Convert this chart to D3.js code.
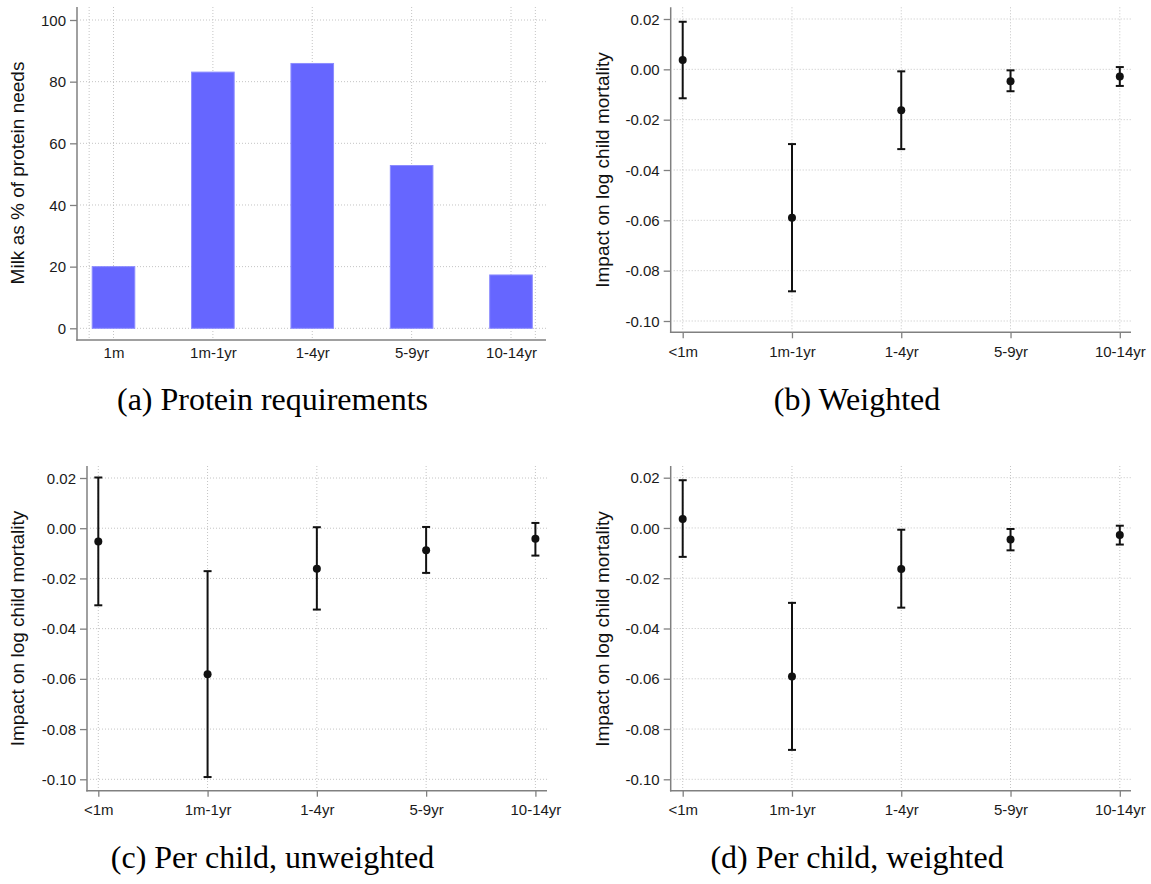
<!DOCTYPE html>
<html>
<head>
<meta charset="utf-8">
<style>
  body { margin: 0; background: #fff; }
  svg { position: absolute; top: 0; left: 0; }
  .tick text { font-family: "Liberation Sans", Arial, sans-serif; font-size: 15px; fill: #1a1a1a; }
  .tick line { stroke: #808080; stroke-width: 1.3px; }
  .axisline { stroke: #808080; stroke-width: 1.5px; }
  .grid { stroke: #c4c4c4; stroke-width: 1px; stroke-dasharray: 1,2; }
  .ytitle { font-family: "Liberation Sans", Arial, sans-serif; font-size: 19px; fill: #111; }
  .caption { font-family: "Liberation Serif", "Times New Roman", serif; font-size: 32px; fill: #000; }
  .bar { fill: #6666ff; stroke: #8c8cff; stroke-width: 1px; }
  .ci { stroke: #111; stroke-width: 2px; }
  .dot { fill: #111; }
</style>
<script src="https://cdnjs.cloudflare.com/ajax/libs/d3/7.8.5/d3.min.js"></script>
</head>
<body>
<svg width="1151" height="884"></svg>
<script>
// ---- data ----
var proteinCats = ["1m", "1m-1yr", "1-4yr", "5-9yr", "10-14yr"];
var proteinShare = [20.0, 83.1, 85.9, 52.8, 17.3];
var proteinTicks = [0, 20, 40, 60, 80, 100];
var proteinTickLabels = ["0", "20", "40", "60", "80", "100"];

var ageCats = ["<1m", "1m-1yr", "1-4yr", "5-9yr", "10-14yr"];
var impactTicks = [0.02, 0, -0.02, -0.04, -0.06, -0.08, -0.10];
var impactTickLabels = ["0.02", "0.00", "-0.02", "-0.04", "-0.06", "-0.08", "-0.10"];

// (b) weighted
var weightedEst = [0.0037, -0.0590, -0.0163, -0.0047, -0.0028];
var weightedLo  = [-0.0115, -0.0882, -0.0317, -0.0087, -0.0066];
var weightedHi  = [0.0189, -0.0297, -0.0008, -0.0004, 0.0009];
// (c) per child, unweighted
var perChildEst = [-0.0053, -0.0582, -0.0161, -0.0088, -0.0042];
var perChildLo  = [-0.0307, -0.0991, -0.0324, -0.0178, -0.0109];
var perChildHi  = [0.0202, -0.0171, 0.0004, 0.0005, 0.0021];
// (d) per child, weighted
var perChildWEst = [0.0036, -0.0591, -0.0163, -0.0046, -0.0028];
var perChildWLo  = [-0.0115, -0.0883, -0.0317, -0.0089, -0.0066];
var perChildWHi  = [0.0190, -0.0298, -0.0007, -0.0004, 0.0009];

var svg = d3.select("svg");

// shared axis frame: y axis line, x axis line, grid, ticks, title
function frame(p) {
	var g = svg.append("g");
	var x = d3.scalePoint().domain(p.cats).range(p.xr);
	var y = d3.scaleLinear().domain(p.yd).range(p.yr);

	// grid
	g.selectAll(".hgrid").data(p.yticks).enter().append("line")
		.attr("class", "grid")
		.attr("x1", p.x0 + 3).attr("x2", p.x1)
		.attr("y1", function(d) { return y(d); })
		.attr("y2", function(d) { return y(d); });
	var vgrid = p.cats.map(function(c) { return x(c); });
	if (p.edgeGrid) {
		vgrid.push(x(p.cats[0]) - 0.245 * x.step());
		vgrid.push(x(p.cats[p.cats.length - 1]) + 0.245 * x.step());
	}
	g.selectAll(".vgrid").data(vgrid).enter().append("line")
		.attr("class", "grid")
		.attr("x1", function(d) { return d; }).attr("x2", function(d) { return d; })
		.attr("y1", p.top).attr("y2", p.y0 - 1);

	// y axis
	var yAxis = d3.axisLeft(y).tickValues(p.yticks).tickSize(7).tickSizeOuter(0).tickPadding(4)
		.tickFormat(function(d, i) { return p.ylabels[i]; });
	var ya = g.append("g").attr("transform", "translate(" + p.x0 + ",0)").call(yAxis);
	ya.select(".domain").remove();
	ya.selectAll(".tick text").attr("dy", "0.34em");

	// x axis
	var xAxis = d3.axisBottom(x).tickSize(p.xtick).tickSizeOuter(0).tickPadding(p.xpad);
	var xa = g.append("g").attr("transform", "translate(0," + p.y0 + ")").call(xAxis);
	xa.select(".domain").remove();

	g.append("line").attr("class", "axisline")
		.attr("x1", p.x0).attr("x2", p.x0).attr("y1", p.top).attr("y2", p.y0 + 0.75);
	g.append("line").attr("class", "axisline")
		.attr("x1", p.x0 - 0.75).attr("x2", p.x1).attr("y1", p.y0).attr("y2", p.y0);

	g.append("text").attr("class", "ytitle")
		.attr("text-anchor", "middle")
		.attr("transform", "translate(" + p.tx + "," + p.ty + ") rotate(-90)")
		.attr("dy", "0.35em")
		.text(p.ytitle);

	g.append("text").attr("class", "caption")
		.attr("text-anchor", "middle")
		.attr("x", p.cx).attr("y", p.cy)
		.text(p.caption);

	return {g: g, x: x, y: y};
}

function errPanel(p, est, lo, hi) {
	var f = frame(p);
	var rows = est.map(function(v, i) { return {c: p.cats[i], est: v, lo: lo[i], hi: hi[i]}; });
	var g = f.g.append("g");
	g.selectAll(".ci").data(rows).enter().append("line")
		.attr("class", "ci")
		.attr("x1", function(d) { return f.x(d.c); }).attr("x2", function(d) { return f.x(d.c); })
		.attr("y1", function(d) { return f.y(d.lo); }).attr("y2", function(d) { return f.y(d.hi); });
	["lo", "hi"].forEach(function(k) {
		g.selectAll(".cap" + k).data(rows).enter().append("line")
			.attr("class", "ci")
			.attr("x1", function(d) { return f.x(d.c) - 4; }).attr("x2", function(d) { return f.x(d.c) + 4; })
			.attr("y1", function(d) { return f.y(d[k]); }).attr("y2", function(d) { return f.y(d[k]); });
	});
	g.selectAll(".dot").data(rows).enter().append("circle")
		.attr("class", "dot")
		.attr("cx", function(d) { return f.x(d.c); })
		.attr("cy", function(d) { return f.y(d.est); })
		.attr("r", 4);
}

// (a) bars
var pa = {
	cats: proteinCats, xr: [113.5, 511], yd: [0, 100], yr: [328.3, 20],
	x0: 77, x1: 546, y0: 340, top: 7,
	yticks: proteinTicks, ylabels: proteinTickLabels,
	xtick: 0, xpad: 7, edgeGrid: true,
	ytitle: "Milk as % of protein needs", tx: 17, ty: 173,
	caption: "(a) Protein requirements", cx: 272.5, cy: 410
};
var fa = frame(pa);
var bw = 42.6;
fa.g.append("g").selectAll(".bar").data(proteinShare).enter().append("rect")
	.attr("class", "bar")
	.attr("x", function(d, i) { return fa.x(proteinCats[i]) - bw / 2; })
	.attr("width", bw)
	.attr("y", function(d) { return fa.y(d); })
	.attr("height", function(d) { return fa.y(0) - fa.y(d); });

// (b)
errPanel({
	cats: ageCats, xr: [682.7, 1119.8], yd: [-0.10, 0.02], yr: [321, 19],
	x0: 670.7, x1: 1131, y0: 332.3, top: 7.3,
	yticks: impactTicks, ylabels: impactTickLabels,
	xtick: 6, xpad: 8,
	ytitle: "Impact on log child mortality", tx: 602.5, ty: 170,
	caption: "(b) Weighted", cx: 857, cy: 410
}, weightedEst, weightedLo, weightedHi);

// (c)
errPanel({
	cats: ageCats, xr: [98.3, 535.4], yd: [-0.10, 0.02], yr: [779.3, 478],
	x0: 87, x1: 547, y0: 790.7, top: 466,
	yticks: impactTicks, ylabels: impactTickLabels,
	xtick: 6, xpad: 8,
	ytitle: "Impact on log child mortality", tx: 17.5, ty: 628.5,
	caption: "(c) Per child, unweighted", cx: 272.5, cy: 867.5
}, perChildEst, perChildLo, perChildHi);

// (d)
errPanel({
	cats: ageCats, xr: [682.7, 1119.8], yd: [-0.10, 0.02], yr: [779.3, 477.7],
	x0: 670.7, x1: 1131, y0: 790.7, top: 466,
	yticks: impactTicks, ylabels: impactTickLabels,
	xtick: 6, xpad: 8,
	ytitle: "Impact on log child mortality", tx: 602.5, ty: 629,
	caption: "(d) Per child, weighted", cx: 857, cy: 867.5
}, perChildWEst, perChildWLo, perChildWHi);
</script>
</body>
</html>
